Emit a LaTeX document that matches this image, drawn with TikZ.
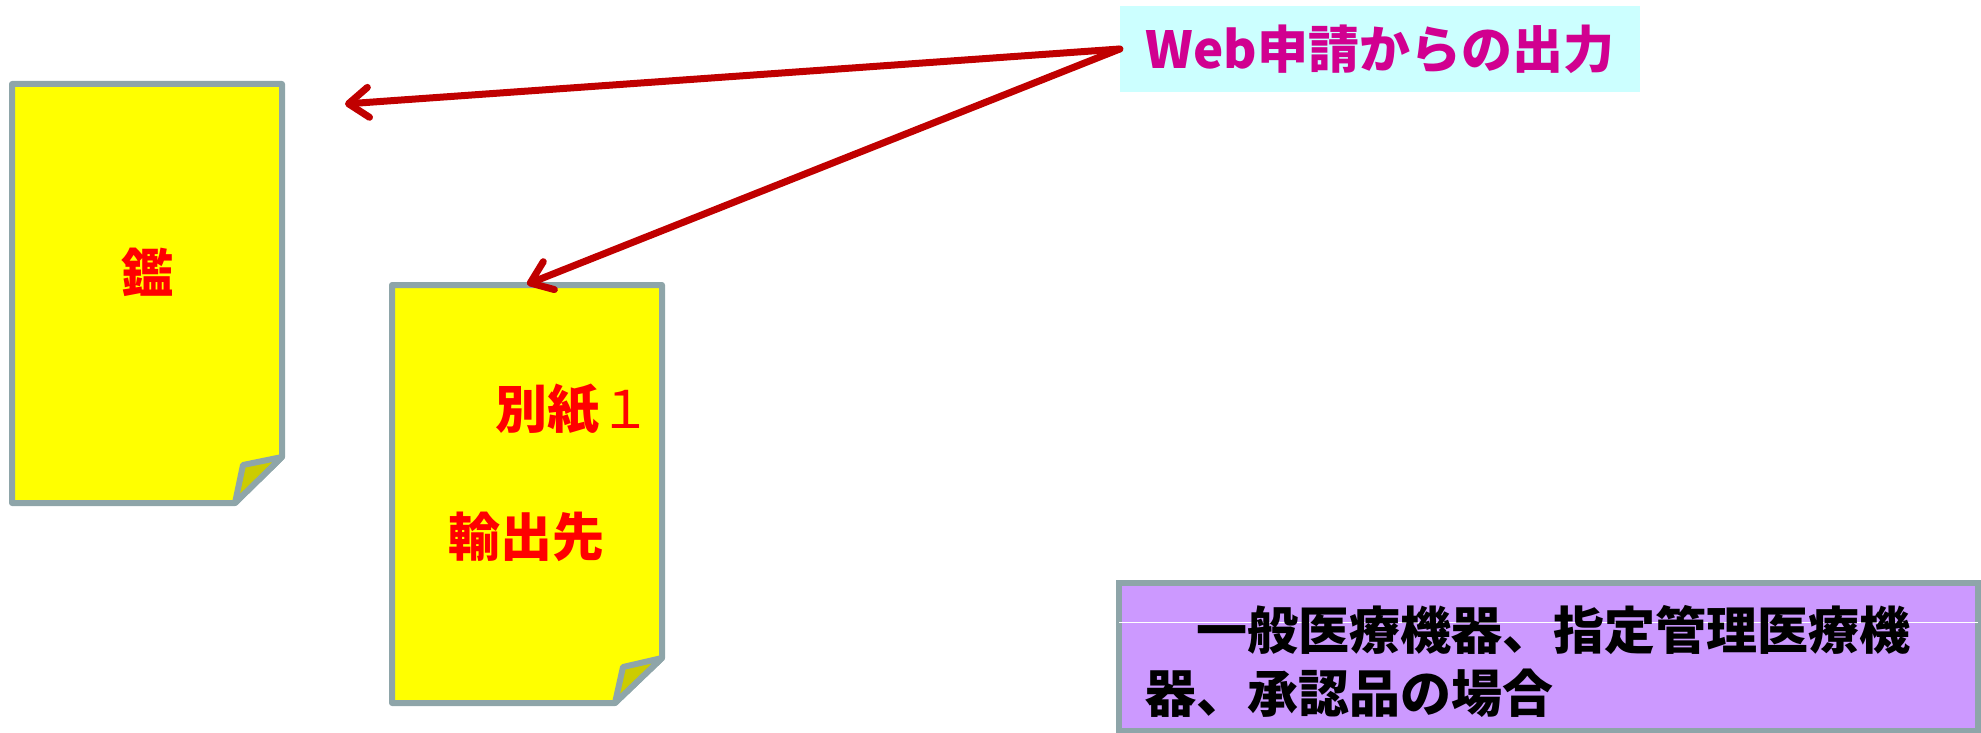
\documentclass[tikz,border=0pt]{standalone}
\usepackage{fontspec}
\newfontfamily\jp{Noto Sans CJK JP}
\usetikzlibrary{arrows.meta}
\definecolor{docfill}{HTML}{FFFF00}
\definecolor{foldfill}{HTML}{CCCC00}
\definecolor{docedge}{HTML}{8EA5A9}
\definecolor{arrred}{HTML}{C00000}
\definecolor{webfill}{HTML}{CCFFFF}
\definecolor{webtext}{HTML}{D10090}
\definecolor{notefill}{HTML}{CC99FF}
\tikzset{
  docshape/.style={draw=docedge, line width=6pt, fill=docfill, line join=round},
  foldshape/.style={draw=docedge, line width=6pt, fill=foldfill, line join=round},
  docarea/.style={inner sep=0pt, minimum width=270pt, minimum height=419pt},
  arr/.style={draw=arrred, line width=7pt, line cap=round,
    -{Straight Barb[length=20pt, width=30pt, round]}},
  doctext/.style={text=red, inner sep=0pt, font=\jp\bfseries\fontsize{52}{60}\selectfont},
}
\begin{document}
\begin{tikzpicture}[x=1pt, y=-1pt]
\useasboundingbox (0,0) rectangle (1981,733);
% document 1
\node[docarea] (doc1) at (147,293.5) {};
\path[docshape] (12,84) -- (282,84) -- (282,457) -- (235,503) -- (12,503) -- cycle;
\path[foldshape] (282,457) -- (243,465) -- (235,503) -- cycle;
\node[doctext] (kan) at (147,272) {鑑};
% document 2
\node[docarea] (doc2) at (527,494) {};
\path[docshape] (392,285) -- (662,285) -- (662,658) -- (615,703) -- (392,703) -- cycle;
\path[foldshape] (662,658) -- (623,667) -- (615,703) -- cycle;
\node[doctext] (bessi) at (573,410) {別紙{\mdseries １}};
\node[doctext] (yushutsu) at (526,537) {輸出先};
% web box
\node[fill=webfill, minimum width=520pt, minimum height=86pt, inner sep=0pt,
      text=webtext, font=\jp\bfseries\fontsize{51}{60}\selectfont] (web) at (1380,49) {Web申請からの出力};
% arrows
\coordinate (tip1) at (345,104);
\coordinate (tip2) at (doc2.north -| 527,0);
\draw[arr] (web.west) -- (tip1);
\draw[arr] (web.west) -- (tip2);
% note box
\node[draw=docedge, line width=6pt, fill=notefill, minimum width=859pt, minimum height=148pt,
      inner sep=0pt] (note) at (1548.5,657) {};
\draw[white, line width=1pt] ([xshift=3pt]note.west |- 0,622) -- ([xshift=-3pt]note.east |- 0,622);
\node[anchor=north west, align=left, inner sep=0pt,
      font=\jp\bfseries\fontsize{51}{63}\selectfont] (notetext) at (1145,605)
  {　一般医療機器、指定管理医療機\\器、承認品の場合};
\end{tikzpicture}
\end{document}
